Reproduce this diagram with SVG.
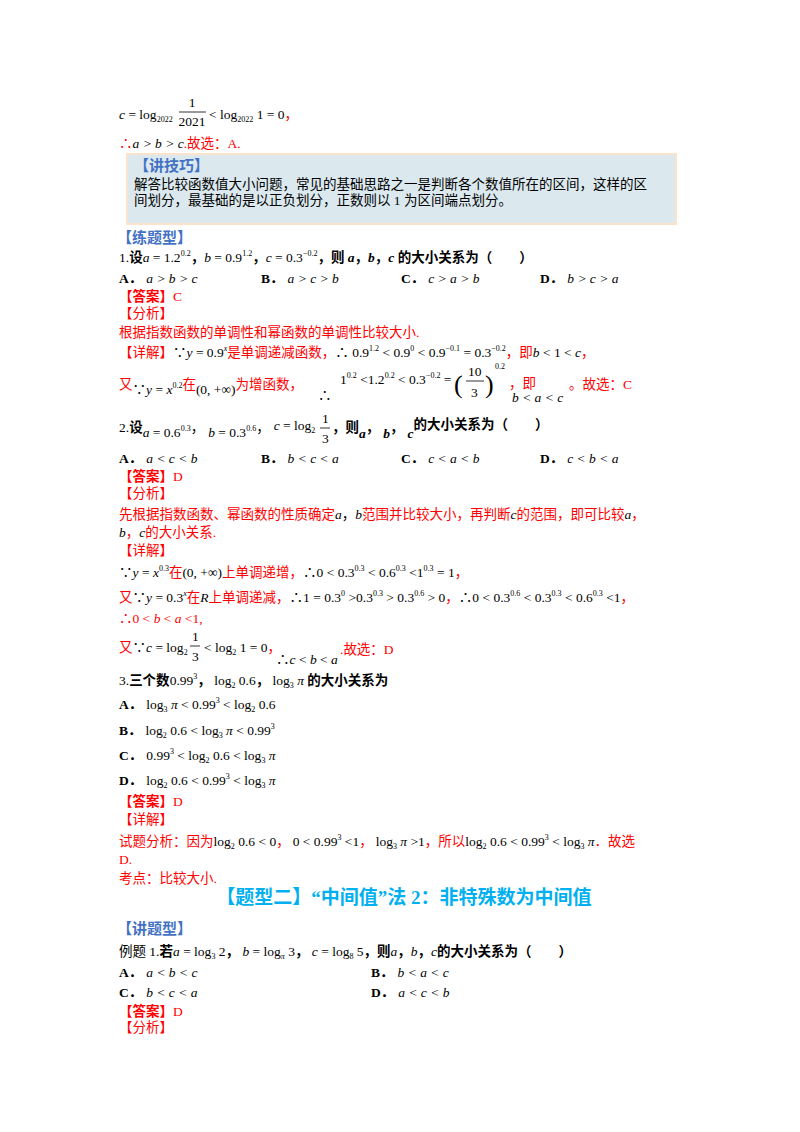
<svg xmlns="http://www.w3.org/2000/svg" width="800" height="1132" viewBox="0 0 800 1132">
<style>
text{font-family:"Liberation Serif","Noto Sans CJK SC",serif;font-size:13.5px;fill:#000}
.r{fill:#f00}
.b{font-weight:bold}
.bl{fill:#4472c4;font-weight:bold;font-size:15px}
.i{font-style:italic}
.s{font-size:8px}
.h{fill:#00b0f0;font-weight:bold;font-size:19px}
</style>
<rect width="800" height="1132" fill="#fff"/>
<g id="top">
<text x="119" y="119"><tspan class="i">c</tspan> = log<tspan class="s" dy="3">2022</tspan></text>
<text x="192" y="107" text-anchor="middle">1</text>
<line x1="179" y1="112" x2="206" y2="112" stroke="#000" stroke-width="0.8"/>
<text x="192" y="126" text-anchor="middle">2021</text>
<text x="209" y="119">&lt; log<tspan class="s" dy="3">2022</tspan><tspan dy="-3"> 1 = 0</tspan><tspan class="r">，</tspan></text>
<text x="119" y="148" class="r">∴<tspan class="i" style="fill:#000">a &gt; b &gt; c</tspan>.故选：A.</text>
</g>
<g id="tip">
<rect x="127" y="154" width="549" height="70" fill="#dbe9ef" stroke="#fbe3cc" stroke-width="2"/>
<text x="134" y="171" class="bl">【讲技巧】</text>
<text x="134" y="189">解答比较函数值大小问题，常见的基础思路之一是判断各个数值所在的区间，这样的区</text>
<text x="134" y="205">间划分，最基础的是以正负划分，正数则以 1 为区间端点划分。</text>
</g>
<g id="q1">
<text x="117" y="243" class="bl">【练题型】</text>
<text x="119" y="262">1.<tspan class="b">设</tspan><tspan class="i">a</tspan> = 1.2<tspan class="s" dy="-6">0.2</tspan><tspan dy="6" class="b">，</tspan><tspan class="i">b</tspan> = 0.9<tspan class="s" dy="-6">1.2</tspan><tspan dy="6" class="b">，</tspan><tspan class="i">c</tspan> = 0.3<tspan class="s" dy="-6">−0.2</tspan><tspan dy="6" class="b">，则 </tspan><tspan class="b i">a</tspan><tspan class="b">，</tspan><tspan class="b i">b</tspan><tspan class="b">，</tspan><tspan class="b i">c</tspan><tspan class="b"> 的大小关系为（　　）</tspan></text>
<text x="119" y="283"><tspan class="b">A．</tspan><tspan class="i" dx="4">a &gt; b &gt; c</tspan></text>
<text x="261" y="283"><tspan class="b">B．</tspan><tspan class="i" dx="4">a &gt; c &gt; b</tspan></text>
<text x="401" y="283"><tspan class="b">C．</tspan><tspan class="i" dx="4">c &gt; a &gt; b</tspan></text>
<text x="540" y="283"><tspan class="b">D．</tspan><tspan class="i" dx="4">b &gt; c &gt; a</tspan></text>
<text x="119" y="301" class="r"><tspan class="b r">【答案】</tspan>C</text>
<text x="119" y="318" class="r">【分析】</text>
<text x="119" y="337" class="r">根据指数函数的单调性和幂函数的单调性比较大小.</text>
<text x="119" y="357" class="r">【详解】<tspan style="fill:#000">∵<tspan class="i">y</tspan> = 0.9<tspan class="s i" dy="-6">x</tspan></tspan><tspan dy="6">是单调递减函数，</tspan><tspan style="fill:#000">∴  0.9<tspan class="s" dy="-6">1.2</tspan><tspan dy="6"> &lt; 0.9</tspan><tspan class="s" dy="-6">0</tspan><tspan dy="6"> &lt; 0.9</tspan><tspan class="s" dy="-6">−0.1</tspan><tspan dy="6"> = 0.3</tspan><tspan class="s" dy="-6">−0.2</tspan></tspan><tspan dy="6">，即</tspan><tspan style="fill:#000" class="i">b</tspan><tspan style="fill:#000"> &lt; 1 &lt; </tspan><tspan style="fill:#000" class="i">c</tspan>，</text>
<text x="119" y="389" class="r">又<tspan style="fill:#000" dy="5">∵<tspan class="i">y</tspan> = <tspan class="i">x</tspan><tspan class="s" dy="-6">0.2</tspan></tspan><tspan dy="1">在</tspan><tspan style="fill:#000" dy="5">(0, +∞)</tspan><tspan dy="-5">为增函数，</tspan></text>
<text x="318" y="400">∴</text>
<text x="340" y="384">1<tspan class="s" dy="-6">0.2</tspan><tspan dy="6"> &lt;1.2</tspan><tspan class="s" dy="-6">0.2</tspan><tspan dy="6"> &lt; 0.3</tspan><tspan class="s" dy="-6">−0.2</tspan><tspan dy="6"> =</tspan></text>
<text x="454" y="393" style="font-size:26px">(</text>
<text x="468" y="376">10</text>
<line x1="466" y1="381" x2="484" y2="381" stroke="#000" stroke-width="0.8"/>
<text x="471" y="397">3</text>
<text x="485" y="393" style="font-size:26px">)</text>
<text x="495" y="369" class="s">0.2</text>
<text x="509" y="388" class="r">，即</text>
<text x="512" y="402" class="i">b &lt; a &lt; c</text>
<text x="569" y="389" class="r">。故选：C</text>
</g>
<g id="q2">
<text x="119" y="432">2.<tspan class="b">设</tspan><tspan dy="5"><tspan class="i">a</tspan> = 0.6<tspan class="s" dy="-6">0.3</tspan></tspan><tspan dy="1">，</tspan><tspan dx="4" dy="5"><tspan class="i">b</tspan> = 0.3<tspan class="s" dy="-6">0.6</tspan></tspan><tspan dy="1">，</tspan><tspan dx="4" dy="-2"><tspan class="i">c</tspan> = log<tspan class="s" dy="3">2</tspan></tspan></text>
<text x="322" y="423">1</text>
<line x1="320" y1="428" x2="330" y2="428" stroke="#000" stroke-width="0.8"/>
<text x="322" y="443">3</text>
<text x="332" y="432" class="b">，则<tspan class="i" dy="6">a</tspan><tspan dy="-6">，</tspan><tspan class="i" dx="4" dy="6">b</tspan><tspan dy="-6">，</tspan><tspan class="i" dx="4" dy="6">c</tspan><tspan dy="-9">的大小关系为（　　）</tspan></text>
<text x="119" y="463"><tspan class="b">A．</tspan><tspan class="i" dx="4">a &lt; c &lt; b</tspan></text>
<text x="261" y="463"><tspan class="b">B．</tspan><tspan class="i" dx="4">b &lt; c &lt; a</tspan></text>
<text x="401" y="463"><tspan class="b">C．</tspan><tspan class="i" dx="4">c &lt; a &lt; b</tspan></text>
<text x="540" y="463"><tspan class="b">D．</tspan><tspan class="i" dx="4">c &lt; b &lt; a</tspan></text>
<text x="119" y="481" class="r"><tspan class="b r">【答案】</tspan>D</text>
<text x="119" y="498" class="r">【分析】</text>
<text x="119" y="519" class="r">先根据指数函数、幂函数的性质确定<tspan class="i" style="fill:#000">a</tspan><tspan style="fill:#000">，</tspan><tspan class="i" style="fill:#000">b</tspan>范围并比较大小，再判断<tspan class="i" style="fill:#000">c</tspan>的范围，即可比较<tspan class="i" style="fill:#000">a</tspan>，</text>
<text x="119" y="537" class="r"><tspan class="i" style="fill:#000">b</tspan>，<tspan class="i" style="fill:#000">c</tspan>的大小关系.</text>
<text x="119" y="555" class="r">【详解】</text>
<text x="119" y="577" class="r"><tspan style="fill:#000">∵<tspan class="i">y</tspan> = <tspan class="i">x</tspan><tspan class="s" dy="-6">0.3</tspan></tspan><tspan dy="6">在</tspan><tspan style="fill:#000">(0, +∞)</tspan>上单调递增，<tspan style="fill:#000">∴0 &lt; 0.3<tspan class="s" dy="-6">0.3</tspan><tspan dy="6"> &lt; 0.6</tspan><tspan class="s" dy="-6">0.3</tspan><tspan dy="6"> &lt;1</tspan><tspan class="s" dy="-6">0.3</tspan><tspan dy="6"> = 1</tspan></tspan>，</text>
<text x="119" y="602" class="r">又<tspan style="fill:#000">∵<tspan class="i">y</tspan> = 0.3<tspan class="s i" dy="-6">x</tspan></tspan><tspan dy="6">在</tspan><tspan class="i" style="fill:#000">R</tspan>上单调递减，<tspan style="fill:#000">∴1 = 0.3<tspan class="s" dy="-6">0</tspan><tspan dy="6"> &gt;0.3</tspan><tspan class="s" dy="-6">0.3</tspan><tspan dy="6"> &gt; 0.3</tspan><tspan class="s" dy="-6">0.6</tspan><tspan dy="6"> &gt; 0</tspan></tspan>，<tspan style="fill:#000">∴0 &lt; 0.3<tspan class="s" dy="-6">0.6</tspan><tspan dy="6"> &lt; 0.3</tspan><tspan class="s" dy="-6">0.3</tspan><tspan dy="6"> &lt; 0.6</tspan><tspan class="s" dy="-6">0.3</tspan><tspan dy="6"> &lt;1</tspan></tspan>，</text>
<text x="119" y="623" class="r">∴0 &lt; <tspan class="i">b</tspan> &lt; <tspan class="i">a</tspan> &lt;1,</text>
<text x="119" y="652" class="r">又<tspan style="fill:#000">∵<tspan class="i">c</tspan> = log<tspan class="s" dy="3">2</tspan></tspan></text>
<text x="192" y="641">1</text>
<line x1="190" y1="646" x2="200" y2="646" stroke="#000" stroke-width="0.8"/>
<text x="192" y="661">3</text>
<text x="204" y="652">&lt; log<tspan class="s" dy="3">2</tspan><tspan dy="-3"> 1 = 0</tspan><tspan class="r">，</tspan></text>
<text x="276" y="664">∴<tspan class="i">c</tspan> &lt; <tspan class="i">b</tspan> &lt; <tspan class="i">a</tspan></text>
<text x="340" y="654" class="r">.故选：D</text>
</g>
<g id="q3">
<text x="119" y="685">3.<tspan class="b">三个数</tspan>0.99<tspan class="s" dy="-6">3</tspan><tspan dy="6" class="b">，</tspan> log<tspan class="s" dy="3">2</tspan><tspan dy="-3"> 0.6</tspan><tspan class="b">，</tspan> log<tspan class="s" dy="3">3</tspan><tspan dy="-3" class="i"> π</tspan><tspan class="b"> 的大小关系为</tspan></text>
<text x="119" y="709"><tspan class="b">A．</tspan><tspan dx="4">log<tspan class="s" dy="3">3</tspan><tspan dy="-3" class="i"> π</tspan> &lt; 0.99<tspan class="s" dy="-6">3</tspan><tspan dy="6"> &lt; log</tspan><tspan class="s" dy="3">2</tspan><tspan dy="-3"> 0.6</tspan></tspan></text>
<text x="119" y="735"><tspan class="b">B．</tspan><tspan dx="4">log<tspan class="s" dy="3">2</tspan><tspan dy="-3"> 0.6 &lt; log</tspan><tspan class="s" dy="3">3</tspan><tspan dy="-3" class="i"> π</tspan> &lt; 0.99<tspan class="s" dy="-6">3</tspan></tspan></text>
<text x="119" y="760"><tspan class="b">C．</tspan><tspan dx="4">0.99<tspan class="s" dy="-6">3</tspan><tspan dy="6"> &lt; log</tspan><tspan class="s" dy="3">2</tspan><tspan dy="-3"> 0.6 &lt; log</tspan><tspan class="s" dy="3">3</tspan><tspan dy="-3" class="i"> π</tspan></tspan></text>
<text x="119" y="785"><tspan class="b">D．</tspan><tspan dx="4">log<tspan class="s" dy="3">2</tspan><tspan dy="-3"> 0.6 &lt; 0.99</tspan><tspan class="s" dy="-6">3</tspan><tspan dy="6"> &lt; log</tspan><tspan class="s" dy="3">3</tspan><tspan dy="-3" class="i"> π</tspan></tspan></text>
<text x="119" y="806" class="r"><tspan class="b r">【答案】</tspan>D</text>
<text x="119" y="824" class="r">【详解】</text>
<text x="119" y="846" class="r">试题分析：因为<tspan style="fill:#000">log<tspan class="s" dy="3">2</tspan><tspan dy="-3"> 0.6 &lt; 0</tspan></tspan>，<tspan style="fill:#000" dx="3">0 &lt; 0.99<tspan class="s" dy="-6">3</tspan><tspan dy="6"> &lt;1</tspan></tspan>，<tspan style="fill:#000" dx="3">log<tspan class="s" dy="3">3</tspan><tspan dy="-3" class="i"> π</tspan> &gt;1</tspan>，所以<tspan style="fill:#000">log<tspan class="s" dy="3">2</tspan><tspan dy="-3"> 0.6 &lt; 0.99</tspan><tspan class="s" dy="-6">3</tspan><tspan dy="6"> &lt; log</tspan><tspan class="s" dy="3">3</tspan><tspan dy="-3" class="i"> π</tspan></tspan>．故选</text>
<text x="119" y="864" class="r">D.</text>
<text x="119" y="883" class="r">考点：比较大小.</text>
</g>
<g id="sec2">
<text x="404" y="904" text-anchor="middle" class="h">【题型二】“中间值”法 2：非特殊数为中间值</text>
<text x="117" y="934" class="bl">【讲题型】</text>
<text x="119" y="956">例题 1.<tspan class="b">若</tspan><tspan class="i">a</tspan> = log<tspan class="s" dy="3">3</tspan><tspan dy="-3"> 2</tspan><tspan class="b">，</tspan> <tspan class="i">b</tspan> = log<tspan class="s i" dy="3">π</tspan><tspan dy="-3"> 3</tspan><tspan class="b">，</tspan> <tspan class="i">c</tspan> = log<tspan class="s" dy="3">8</tspan><tspan dy="-3"> 5</tspan><tspan class="b">，则</tspan><tspan class="i">a</tspan><tspan class="b">，</tspan><tspan class="i">b</tspan><tspan class="b">，</tspan><tspan class="i">c</tspan><tspan class="b">的大小关系为（　　）</tspan></text>
<text x="119" y="977"><tspan class="b">A．</tspan><tspan class="i" dx="4">a &lt; b &lt; c</tspan></text>
<text x="371" y="977"><tspan class="b">B．</tspan><tspan class="i" dx="4">b &lt; a &lt; c</tspan></text>
<text x="119" y="997"><tspan class="b">C．</tspan><tspan class="i" dx="4">b &lt; c &lt; a</tspan></text>
<text x="371" y="997"><tspan class="b">D．</tspan><tspan class="i" dx="4">a &lt; c &lt; b</tspan></text>
<text x="119" y="1016" class="r"><tspan class="b r">【答案】</tspan>D</text>
<text x="119" y="1032" class="r">【分析】</text>
</g>
</svg>
